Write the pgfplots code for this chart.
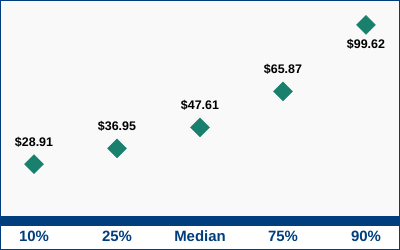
\documentclass[border=0pt]{standalone}
\usepackage{pgfplots}
\pgfplotsset{compat=1.18}
\usepackage{fontspec}
\setmainfont{Liberation Sans}
\definecolor{navy}{RGB}{0,62,126}
\definecolor{teal2}{RGB}{24,128,108}
\definecolor{bg}{RGB}{249,249,249}
\begin{document}
\begin{tikzpicture}[x=1bp,y=1bp]
\useasboundingbox (0,0) rectangle (400,250);
\fill[white] (0,0) rectangle (400,250);
\begin{axis}[
  at={(0bp,29bp)}, anchor=south west,
  scale only axis, width=400bp, height=220bp,
  xmin=-0.41, xmax=4.41, ymin=0, ymax=111.8,
  clip=false,
  axis background/.style={fill=bg},
  axis line style={draw=none},
  major tick length=0pt,
  ytick=\empty,
  xtick={0,1,2,3,4},
  xticklabels={10\%,25\%,Median,75\%,90\%},
  xticklabel style={anchor=center, yshift=-15bp, text=navy, font=\fontsize{15}{17}\selectfont\bfseries},
  nodes near coords,
  point meta=explicit symbolic,
  every node near coord/.append style={font=\fontsize{12.5}{14}\selectfont\bfseries, text=black, anchor=center},
]
\draw[navy, line width=10bp] (rel axis cs:0,0) -- (rel axis cs:1,0);
\addplot[only marks, mark=square*, mark size=6.7bp, mark options={rotate=45, fill=teal2, draw=teal2},
  nodes near coords style={yshift=22bp}]
  coordinates {(0,28.91) [\$28.91] (1,36.95) [\$36.95] (2,47.61) [\$47.61] (3,65.87) [\$65.87]};
\addplot[only marks, mark=square*, mark size=6.7bp, mark options={rotate=45, fill=teal2, draw=teal2},
  nodes near coords style={yshift=-19bp}]
  coordinates {(4,99.62) [\$99.62]};
\end{axis}
\draw[navy, line width=1.2bp] (0.6,0.6) rectangle (399.4,249.4);
\end{tikzpicture}
\end{document}
